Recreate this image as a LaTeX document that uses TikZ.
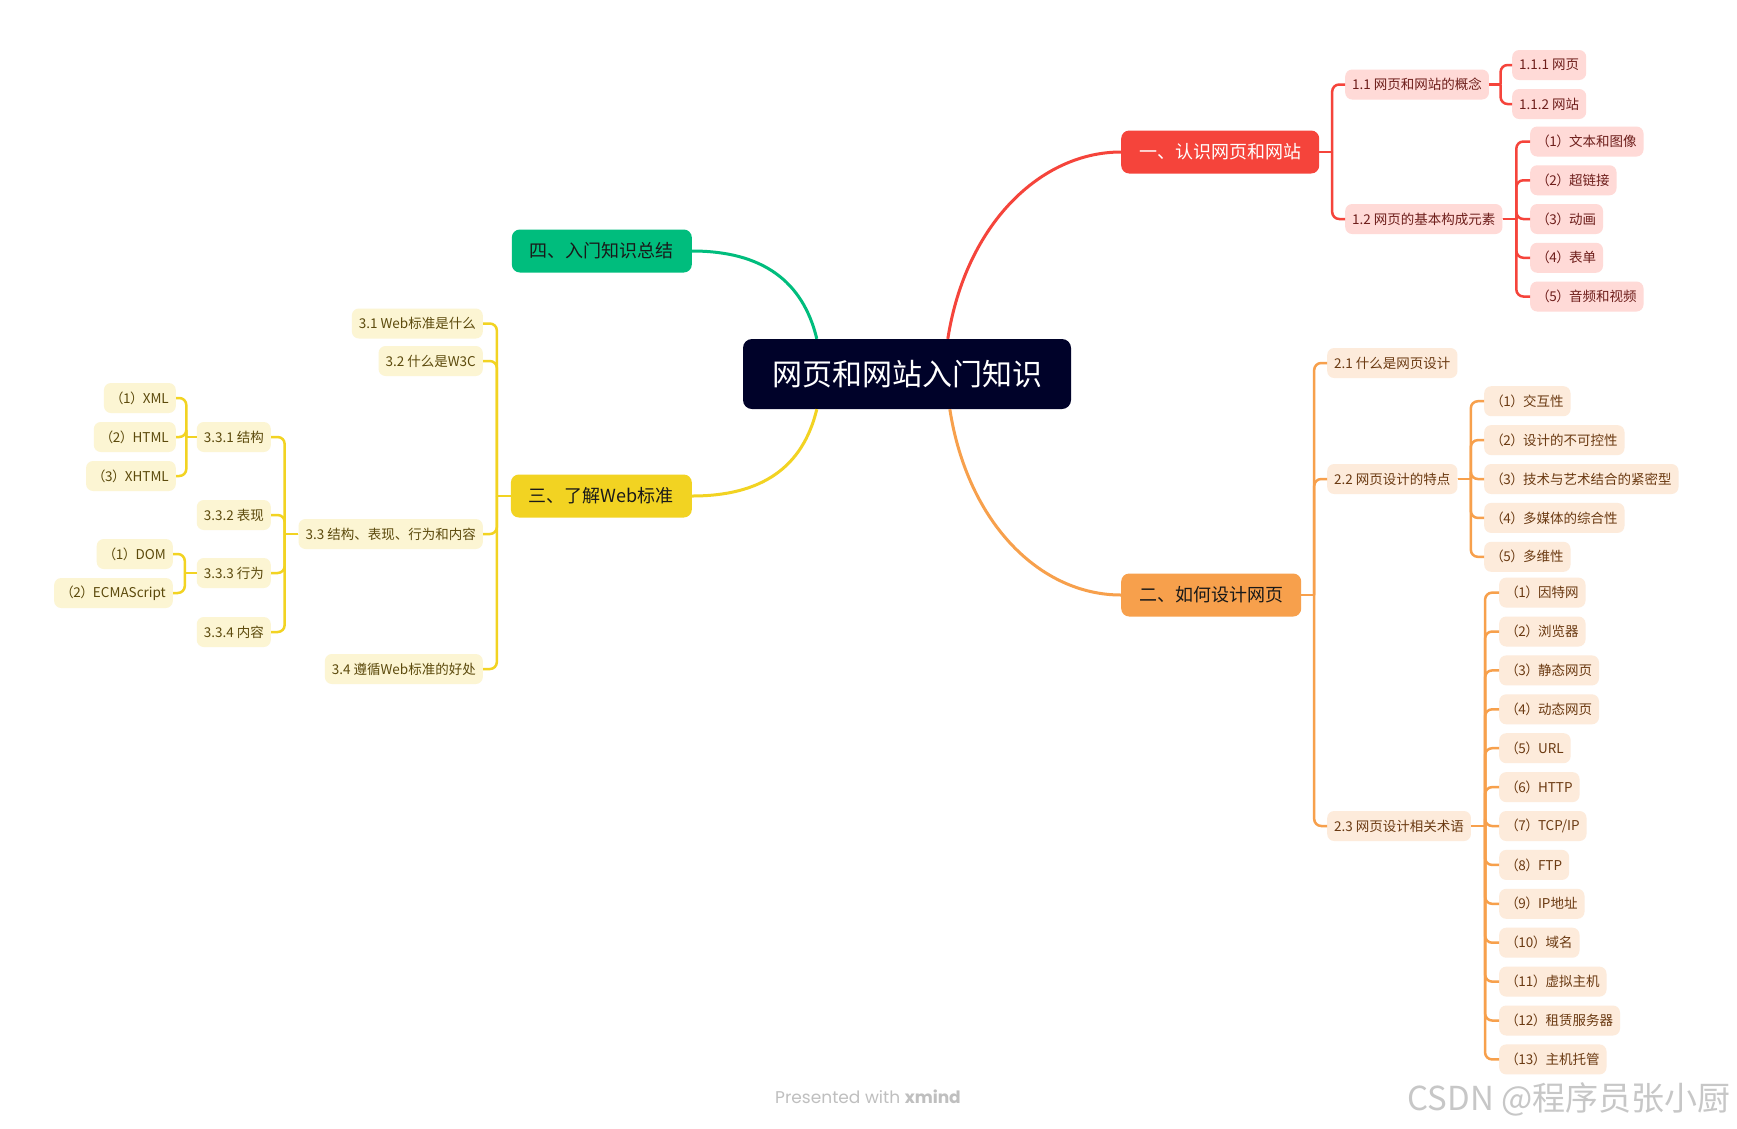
\documentclass[tikz,border=0pt]{standalone}
\usepackage{fontspec}
\setmainfont{Noto Sans CJK SC}
\newfontfamily\paltfont[RawFeature=+palt]{Noto Sans CJK SC}
\newfontfamily\popfont{Poppins}
\usetikzlibrary{calc}
\definecolor{rootc}{HTML}{000229}
\definecolor{redc}{HTML}{F5443B}
\definecolor{redlt}{HTML}{FFDAD7}
\definecolor{redtx}{HTML}{6E1E1B}
\definecolor{orc}{HTML}{F7A04C}
\definecolor{orlt}{HTML}{FDEBDB}
\definecolor{ortx}{HTML}{6B3A12}
\definecolor{yec}{HTML}{F2D322}
\definecolor{yelt}{HTML}{FCF5D3}
\definecolor{yetx}{HTML}{5C4A0C}
\definecolor{grc}{HTML}{00BD7D}
\newcommand\pn[1]{{\paltfont\hspace{0.4em}（#1）\hspace{0.4em}}}
\newcommand\rconn[3]{\draw[#1] (#2.east) -- ($(#2.east)!.5!(#2.east -| #3.west)$) coordinate (tmpj);
  \draw[#1,rounded corners=7pt] (tmpj) |- (#3.west);}
\newcommand\lconn[3]{\draw[#1] (#2.west) -- ($(#2.west)!.5!(#2.west -| #3.east)$) coordinate (tmpj);
  \draw[#1,rounded corners=7pt] (tmpj) |- (#3.east);}
\begin{document}
\begin{tikzpicture}[x=1pt,y=-1pt,
  leaf/.style={rounded corners=7pt, minimum height=30pt, inner xsep=7pt, inner ysep=0pt, font=\fontsize{13.5pt}{16pt}\selectfont},
  rl/.style={leaf, fill=redlt, text=redtx, anchor=west},
  ol/.style={leaf, fill=orlt, text=ortx, anchor=west},
  yl/.style={leaf, fill=yelt, text=yetx, anchor=east},
  br/.style={rounded corners=8pt, minimum height=43pt, inner xsep=18pt, inner ysep=0pt, font=\fontsize{18pt}{20pt}\selectfont},
  rline/.style={draw=redc, line width=2.5pt},
  oline/.style={draw=orc, line width=2.5pt},
  yline/.style={draw=yec, line width=2.5pt},
  mainline/.style={line width=3pt}]
\fill[white] (0,0) rectangle (1737,1128);
\useasboundingbox (0,0) rectangle (1737,1128);

% root
\node[fill=rootc, text=white, rounded corners=9pt, minimum width=328pt, minimum height=70pt, inner sep=0pt,
      font=\fontsize{30pt}{32pt}\selectfont] (root) at (907,374) {网页和网站入门知识};

% main branches
\node[br, fill=redc, text=white, anchor=west] (n1) at (1121,152) {一、认识网页和网站};
\node[br, fill=orc, text=black!90, anchor=west] (n2) at (1121,595) {二、如何设计网页};
\node[br, fill=yec, text=black!90, anchor=east] (n3) at (692,496) {三、了解Web标准};
\node[br, fill=grc, text=black!90, anchor=east] (n4) at (692,251) {四、入门知识总结};

\draw[grc, mainline] (n4.east) .. controls +(70,0) and +(-14,-58) .. ([xshift=74pt]root.north west);
\draw[redc, mainline] ([xshift=205pt]root.north west) .. controls +(18,-115) and +(-80,0) .. (n1.west);
\draw[orc, mainline] ([xshift=207pt]root.south west) .. controls +(18,115) and +(-80,0) .. (n2.west);
\draw[yec, mainline] (n3.east) .. controls +(70,0) and +(-14,58) .. ([xshift=74pt]root.south west);

% red subtree
\node[rl] (n11) at (1345,84.5) {1.1 网页和网站的概念};
\node[rl] (n12) at (1345,219) {1.2 网页的基本构成元素};
\node[rl] (n111) at (1512,65) {1.1.1 网页};
\node[rl] (n112) at (1512,104) {1.1.2 网站};
\node[rl] (n121) at (1530,141.5) {\pn{1}文本和图像};
\node[rl] (n122) at (1530,180.25) {\pn{2}超链接};
\node[rl] (n123) at (1530,219) {\pn{3}动画};
\node[rl] (n124) at (1530,257.75) {\pn{4}表单};
\node[rl] (n125) at (1530,296.5) {\pn{5}音频和视频};
\foreach \c in {n11,n12} {\rconn{rline}{n1}{\c}}
\foreach \c in {n111,n112} {\rconn{rline}{n11}{\c}}
\foreach \c in {n121,n122,n123,n124,n125} {\rconn{rline}{n12}{\c}}

% orange subtree
\node[ol] (n21) at (1327,363) {2.1 什么是网页设计};
\node[ol] (n22) at (1327,479) {2.2 网页设计的特点};
\node[ol] (n23) at (1327,826) {2.3 网页设计相关术语};
\node[ol] (n221) at (1484,401.2) {\pn{1}交互性};
\node[ol] (n222) at (1484,440.1) {\pn{2}设计的不可控性};
\node[ol] (n223) at (1484,479) {\pn{3}技术与艺术结合的紧密型};
\node[ol] (n224) at (1484,517.9) {\pn{4}多媒体的综合性};
\node[ol] (n225) at (1484,556.8) {\pn{5}多维性};
\node[ol] (n2301) at (1499,592.6) {\pn{1}因特网};
\node[ol] (n2302) at (1499,631.5) {\pn{2}浏览器};
\node[ol] (n2303) at (1499,670.4) {\pn{3}静态网页};
\node[ol] (n2304) at (1499,709.3) {\pn{4}动态网页};
\node[ol] (n2305) at (1499,748.2) {\pn{5}URL};
\node[ol] (n2306) at (1499,787.1) {\pn{6}HTTP};
\node[ol] (n2307) at (1499,826) {\pn{7}TCP/IP};
\node[ol] (n2308) at (1499,864.9) {\pn{8}FTP};
\node[ol] (n2309) at (1499,903.8) {\pn{9}IP地址};
\node[ol] (n2310) at (1499,942.7) {\pn{10}域名};
\node[ol] (n2311) at (1499,981.6) {\pn{11}虚拟主机};
\node[ol] (n2312) at (1499,1020.5) {\pn{12}租赁服务器};
\node[ol] (n2313) at (1499,1059.4) {\pn{13}主机托管};
\foreach \c in {n21,n22,n23} {\rconn{oline}{n2}{\c}}
\foreach \c in {n221,n222,n223,n224,n225} {\rconn{oline}{n22}{\c}}
\foreach \c in {n2301,n2302,n2303,n2304,n2305,n2306,n2307,n2308,n2309,n2310,n2311,n2312,n2313} {\rconn{oline}{n23}{\c}}

% yellow subtree
\node[yl] (n31) at (483,323.5) {3.1 Web标准是什么};
\node[yl] (n32) at (483,361) {3.2 什么是W3C};
\node[yl] (n33) at (483,534) {3.3 结构、表现、行为和内容};
\node[yl] (n34) at (483,669) {3.4 遵循Web标准的好处};
\node[yl] (n331) at (271,437) {3.3.1 结构};
\node[yl] (n332) at (271,515) {3.3.2 表现};
\node[yl] (n333) at (271,573) {3.3.3 行为};
\node[yl] (n334) at (271,632) {3.3.4 内容};
\node[yl] (n3311) at (176,398) {\pn{1}XML};
\node[yl] (n3312) at (176,437) {\pn{2}HTML};
\node[yl] (n3313) at (176,476) {\pn{3}XHTML};
\node[yl] (n3331) at (173,554) {\pn{1}DOM};
\node[yl] (n3332) at (173,593) {\pn{2}ECMAScript};
\foreach \c in {n31,n32,n33,n34} {\lconn{yline}{n3}{\c}}
\foreach \c in {n331,n332,n333,n334} {\lconn{yline}{n33}{\c}}
\foreach \c in {n3311,n3312,n3313} {\lconn{yline}{n331}{\c}}
\foreach \c in {n3331,n3332} {\lconn{yline}{n333}{\c}}

% footer texts
\node[font=\popfont\fontsize{17pt}{20pt}\selectfont, text=black!25] (pw) at (868,1097) {Presented with \textbf{xmind}};
\node[anchor=east, font=\fontsize{33pt}{38pt}\selectfont, text=black!22] (wm) at (1734,1099) {CSDN @程序员张小厨};
\end{tikzpicture}
\end{document}
